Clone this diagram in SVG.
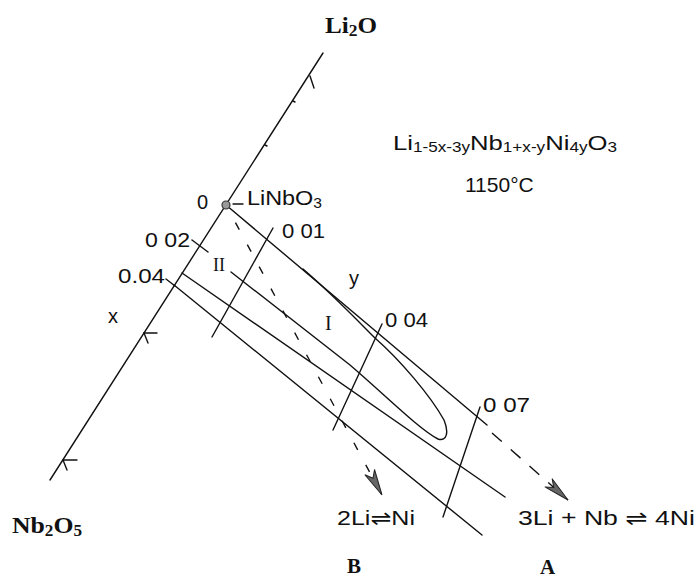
<svg xmlns="http://www.w3.org/2000/svg" width="698" height="579" viewBox="0 0 698 579">
  <style>
    .ln { fill: none; stroke: #111; stroke-width: 1.4; stroke-linecap: round; }
    .dash { fill: none; stroke: #111; stroke-width: 1.4; }
    .sans { font-family: "Liberation Sans", Arial, "DejaVu Sans", sans-serif; fill: #111; }
    .serif { font-family: "Liberation Serif", "Times New Roman", serif; fill: #111; }
  </style>
  <defs>
    <marker id="arr" markerUnits="userSpaceOnUse" markerWidth="30" markerHeight="16" viewBox="0 0 30 16" refX="27" refY="8" orient="auto">
      <path d="M1,2.5 L27,8 L1,13.5 L8,8 Z" fill="#666" stroke="#222" stroke-width="1"/>
    </marker>
  </defs>
  <rect width="698" height="579" fill="#fff"/>

  <g id="axis">
    <line class="ln" x1="323" y1="53" x2="50" y2="480"/>
    <path class="ln" d="M310,76 L314,88"/>
    <path class="ln" d="M293,101 L295,102 M265,145 L267,146" stroke-width="1"/>
    <path class="ln" d="M157,333 L144,333 Q146,338 148,343"/>
    <path class="ln" d="M77,460 L63,460 Q65,465 67,470"/>
    <path class="ln" d="M192,240 L208,252"/>
    <path class="ln" d="M166,279 L175,286"/>
  </g>

  <g id="connectors">
    <line class="ln" x1="226" y1="205" x2="487" y2="425"/>
    <line class="ln" x1="182" y1="273" x2="505" y2="497"/>
    <line class="ln" x1="174" y1="285" x2="482" y2="535"/>
    <line class="ln" x1="273" y1="228" x2="212" y2="337"/>
    <line class="ln" x1="382" y1="324" x2="333" y2="430"/>
    <line class="ln" x1="480" y1="407" x2="443" y2="517"/>
    <path class="dash" d="M226,205 L382,495" stroke-dasharray="8 17" stroke-dashoffset="-20" marker-end="url(#arr)"/>
    <path class="dash" d="M492,433 L568,500" stroke-dasharray="13 12" marker-end="url(#arr)"/>
  </g>

  <g id="region-I">
    <path class="ln" d="M231,272 L350,365 C385,395 420,430 438,439 C447,442 449,432 444,420 C430,395 400,360 375,338 C355,318 330,292 303,269"/>
  </g>

  <g id="linbo3">
    <circle cx="226" cy="205" r="4" fill="#999" stroke="#333" stroke-width="1.2"/>
    <line class="ln" x1="233" y1="204" x2="243" y2="204"/>
    <text class="sans" x="247" y="205" font-size="21" textLength="75" lengthAdjust="spacingAndGlyphs">LiNbO<tspan font-size="14" dy="3">3</tspan></text>
  </g>

  <g id="labels">
    <text class="serif" x="325" y="33" font-size="23" font-weight="bold" textLength="52" lengthAdjust="spacingAndGlyphs">Li<tspan font-size="16" dy="3">2</tspan><tspan dy="-3">O</tspan></text>
    <text class="serif" x="12" y="533" font-size="24" font-weight="bold" textLength="70" lengthAdjust="spacingAndGlyphs">Nb<tspan font-size="16" dy="3">2</tspan><tspan dy="-3">O</tspan><tspan font-size="16" dy="3">5</tspan></text>
    <text class="sans" x="393" y="150" font-size="21" textLength="224" lengthAdjust="spacingAndGlyphs">Li<tspan font-size="14" dy="2">1-5x-3y</tspan><tspan dy="-2">Nb</tspan><tspan font-size="14" dy="2">1+x-y</tspan><tspan dy="-2">Ni</tspan><tspan font-size="14" dy="2">4y</tspan><tspan dy="-2">O</tspan><tspan font-size="14" dy="2">3</tspan></text>
    <text class="sans" x="465" y="192" font-size="21">1150°C</text>
    <text class="sans" x="197" y="209" font-size="20">0</text>
    <text class="sans" x="145" y="247" font-size="20" textLength="45" lengthAdjust="spacingAndGlyphs">0 02</text>
    <text class="sans" x="118" y="283" font-size="20" textLength="47" lengthAdjust="spacingAndGlyphs">0.04</text>
    <text class="sans" x="108" y="323" font-size="20">x</text>
    <text class="sans" x="282" y="238" font-size="20" textLength="43" lengthAdjust="spacingAndGlyphs">0 01</text>
    <text class="sans" x="349" y="285" font-size="20">y</text>
    <text class="sans" x="385" y="327" font-size="20" textLength="43" lengthAdjust="spacingAndGlyphs">0 04</text>
    <text class="sans" x="483" y="412" font-size="20" textLength="47" lengthAdjust="spacingAndGlyphs">0 07</text>
    <text class="serif" x="213" y="271" font-size="18">II</text>
    <text class="serif" x="325" y="330" font-size="20">I</text>
    <text class="sans" x="337" y="525" font-size="20" textLength="78" lengthAdjust="spacingAndGlyphs">2Li⇌Ni</text>
    <text class="sans" x="518" y="525" font-size="20" textLength="177" lengthAdjust="spacingAndGlyphs">3Li + Nb ⇌ 4Ni</text>
    <text class="serif" x="347" y="573" font-size="21" font-weight="bold">B</text>
    <text class="serif" x="540" y="574" font-size="21" font-weight="bold">A</text>
  </g>
</svg>
